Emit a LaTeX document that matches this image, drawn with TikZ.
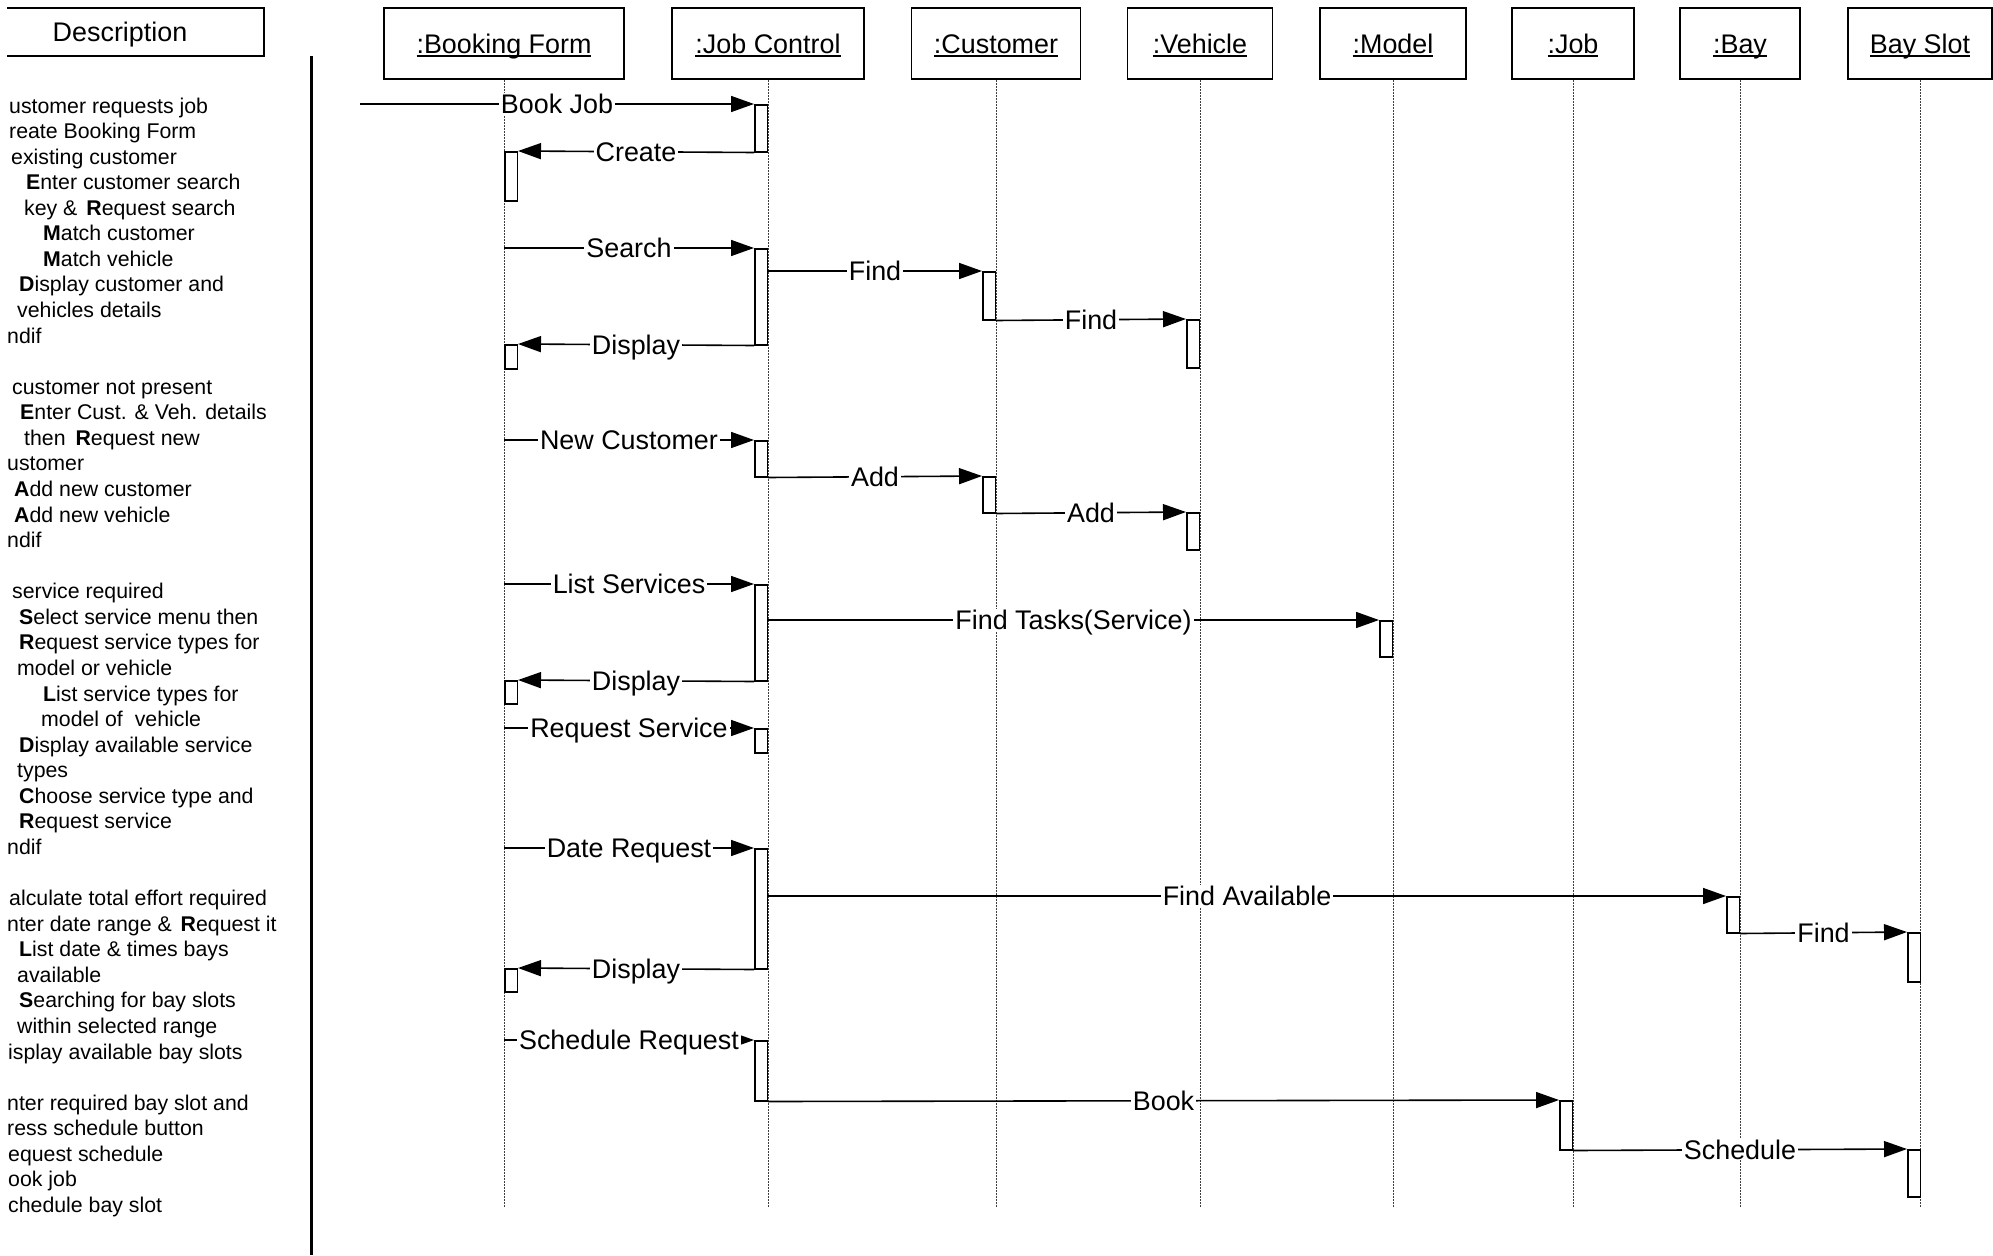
\documentclass[tikz,border=0pt]{standalone}
\usepackage{fontspec}
\setmainfont{Liberation Sans}
\usetikzlibrary{arrows.meta}
% underlined object names, rule crossing the descenders
\newcommand\hdrul[1]{\setbox0\hbox{#1}\rlap{\rule[-3.4pt]{\wd0}{1.5pt}}\box0}
\newcommand\lbfont{\fontsize{26.9}{32}\selectfont}
\newcommand\dsfont{\fontsize{21.3}{25.6}\selectfont}
\begin{document}
\begin{tikzpicture}[x=1pt,y=-1pt,
  obj/.style={draw, line width=1.8pt, minimum height=71pt, inner sep=0pt,
              font=\lbfont, text height=19.3pt, text depth=0pt},
  life/.style={line width=0.9pt, black!75, dash pattern=on 1.6pt off 1.4pt},
  act/.style={draw, fill=white, line width=1.5pt, minimum width=12.5pt, inner sep=0pt},
  msg/.style={line width=1.6pt, -{Triangle[length=23pt,width=16pt]}},
  lbl/.style={fill=white, inner xsep=2pt, inner ysep=1pt, font=\lbfont,
              text height=19.3pt, text depth=0pt},
  desc/.style={anchor=base west, inner sep=0pt, font=\dsfont},
]
\useasboundingbox (0,0) rectangle (1993,1255);
\fill[white] (0,0) rectangle (1993,1255);

% ---------- description column ----------
\begin{scope}
  \clip (7,0) rectangle (300,70);
  \node[obj, minimum width=288pt, minimum height=48pt] (deschdr) at (120,32) {Description};
\end{scope}
\coordinate (septop) at (311,56);
\coordinate (sepbot) at (311,1255);
\draw[line width=3pt] (septop) -- (sepbot);

\foreach \k/\x/\txt in {
  0/9/{ustomer requests job},
  1/9/{reate Booking Form},
  2/11/{existing customer},
  3/26/{\textbf{E}nter customer search},
  4/24/{key \&\hspace{3pt} \textbf{R}equest search},
  5/43/{\textbf{M}atch customer},
  6/43/{\textbf{M}atch vehicle},
  7/19/{\textbf{D}isplay customer and},
  8/17/{vehicles details},
  9/7/{ndif},
  11/12/{customer not present},
  12/20/{\textbf{E}nter Cust. \& Veh. details},
  13/24/{then\hspace{4pt} \textbf{R}equest new},
  14/7/{ustomer},
  15/14/{\textbf{A}dd new customer},
  16/14/{\textbf{A}dd new vehicle},
  17/7/{ndif},
  19/12/{service required},
  20/19/{\textbf{S}elect service menu then},
  21/19/{\textbf{R}equest service types for},
  22/17/{model or vehicle},
  23/43/{\textbf{L}ist service types for},
  24/41/{model of\hspace{6pt} vehicle},
  25/19/{\textbf{D}isplay available service},
  26/17/{types},
  27/19/{\textbf{C}hoose service type and},
  28/19/{\textbf{R}equest service},
  29/7/{ndif},
  31/9/{alculate total effort required},
  32/7/{nter date range \&\hspace{3pt} \textbf{R}equest it},
  33/19/{\textbf{L}ist date \& times bays},
  34/17/{available},
  35/19/{\textbf{S}earching for bay slots},
  36/17/{within selected range},
  37/8/{isplay available bay slots},
  39/7/{nter required bay slot and},
  40/7/{ress schedule button},
  41/8/{equest schedule},
  42/8/{ook job},
  43/8/{chedule bay slot}}
  \node[desc] (d\k) at (\x,113+25.57*\k) {\txt};

% ---------- objects ----------
\node[obj, minimum width=240pt] (bf)  at (504,43.5)    {\hdrul{:Booking Form}};
\node[obj, minimum width=192pt] (jc)  at (768,43.5)    {\hdrul{:Job Control}};
\node[obj, minimum width=169pt] (cu)  at (996,43.5)    {\hdrul{:Customer}};
\node[obj, minimum width=145pt] (ve)  at (1200,43.5)   {\hdrul{:Vehicle}};
\node[obj, minimum width=146pt] (mo)  at (1393,43.5)   {\hdrul{:Model}};
\node[obj, minimum width=122pt] (jo)  at (1573,43.5)   {\hdrul{:Job}};
\node[obj, minimum width=120pt] (ba)  at (1740,43.5)   {\hdrul{:Bay}};
\node[obj, minimum width=144pt] (bs)  at (1920,43.5)   {\hdrul{Bay Slot}};

% ---------- lifelines ----------
\coordinate (lifeend) at (0,1207);
\foreach \o in {bf,jc,cu,ve,mo,jo,ba,bs}
  \draw[life] (\o.south) -- (\o.south |- lifeend);

% ---------- activations ----------
\node[act, anchor=north east, minimum height=47pt]  (jc1) at (768,104) {};
\node[act, anchor=north east, minimum height=96pt]  (jc2) at (768,248) {};
\node[act, anchor=north east, minimum height=36pt]  (jc3) at (768,440) {};
\node[act, anchor=north east, minimum height=96pt]  (jc4) at (768,584) {};
\node[act, anchor=north east, minimum height=24pt]  (jc5) at (768,728) {};
\node[act, anchor=north east, minimum height=120pt] (jc6) at (768,848) {};
\node[act, anchor=north east, minimum height=60pt]  (jc7) at (768,1040) {};

\node[act, anchor=north west, minimum height=49pt] (bf1) at (504,151) {};
\node[act, anchor=north west, minimum height=24pt] (bf2) at (504,344) {};
\node[act, anchor=north west, minimum height=23pt] (bf3) at (504,680) {};
\node[act, anchor=north west, minimum height=23pt] (bf4) at (504,968) {};

\node[act, anchor=north east, minimum height=48pt] (c1) at (996,271) {};
\node[act, anchor=north east, minimum height=36pt] (c2) at (996,476) {};
\node[act, anchor=north east, minimum height=48pt] (v1) at (1200,319) {};
\node[act, anchor=north east, minimum height=37pt] (v2) at (1200,512) {};
\node[act, anchor=north east, minimum height=36pt] (m1) at (1393,620) {};
\node[act, anchor=north east, minimum height=36pt] (b1) at (1740,896) {};
\node[act, anchor=north east, minimum height=49pt] (bs1) at (1921,932) {};
\node[act, anchor=north east, minimum height=49pt] (j1) at (1573,1100) {};
\node[act, anchor=north east, minimum height=47pt] (bs2) at (1921,1149) {};

% ---------- messages ----------
\coordinate (entry) at (360,104);
\draw[msg] (entry) -- (jc1.north west) node[lbl, midway] {Book Job};
\draw[msg] (jc1.south west) -- (bf1.north east) node[lbl, midway] {Create};

\draw[msg] (jc2.north west -| bf.south) -- (jc2.north west) node[lbl, midway] {Search};
\draw[msg] (c1.north west -| jc2.east) -- (c1.north west) node[lbl, midway] {Find};
\draw[msg] (c1.south east) -- (v1.north west) node[lbl, midway] {Find};
\draw[msg] (jc2.south west) -- (bf2.north east) node[lbl, midway] {Display};

\draw[msg] (jc3.north west -| bf.south) -- (jc3.north west) node[lbl, midway] {New Customer};
\draw[msg] (jc3.south east) -- (c2.north west) node[lbl, midway] {Add};
\draw[msg] (c2.south east) -- (v2.north west) node[lbl, midway] {Add};

\draw[msg] (jc4.north west -| bf.south) -- (jc4.north west) node[lbl, midway] {List Services};
\draw[msg] (m1.north west -| jc4.east) -- (m1.north west) node[lbl, midway] {Find Tasks(Service)};
\draw[msg] (jc4.south west) -- (bf3.north east) node[lbl, midway] {Display};
\draw[msg] (jc5.north west -| bf.south) -- (jc5.north west) node[lbl, midway] {Request Service};

\draw[msg] (jc6.north west -| bf.south) -- (jc6.north west) node[lbl, midway] {Date Request};
\draw[msg] (b1.north west -| jc6.east) -- (b1.north west) node[lbl, midway] {Find Available};
\draw[msg] (b1.south east) -- (bs1.north west) node[lbl, midway] {Find};
\draw[msg] (jc6.south west) -- (bf4.north east) node[lbl, midway] {Display};

\draw[msg] (jc7.north west -| bf.south) -- (jc7.north west) node[lbl, midway] {Schedule Request};
\draw[msg] (jc7.south east) -- (j1.north west) node[lbl, midway] {Book};
\draw[msg] (j1.south east) -- (bs2.north west) node[lbl, midway] {Schedule};
\end{tikzpicture}
\end{document}
